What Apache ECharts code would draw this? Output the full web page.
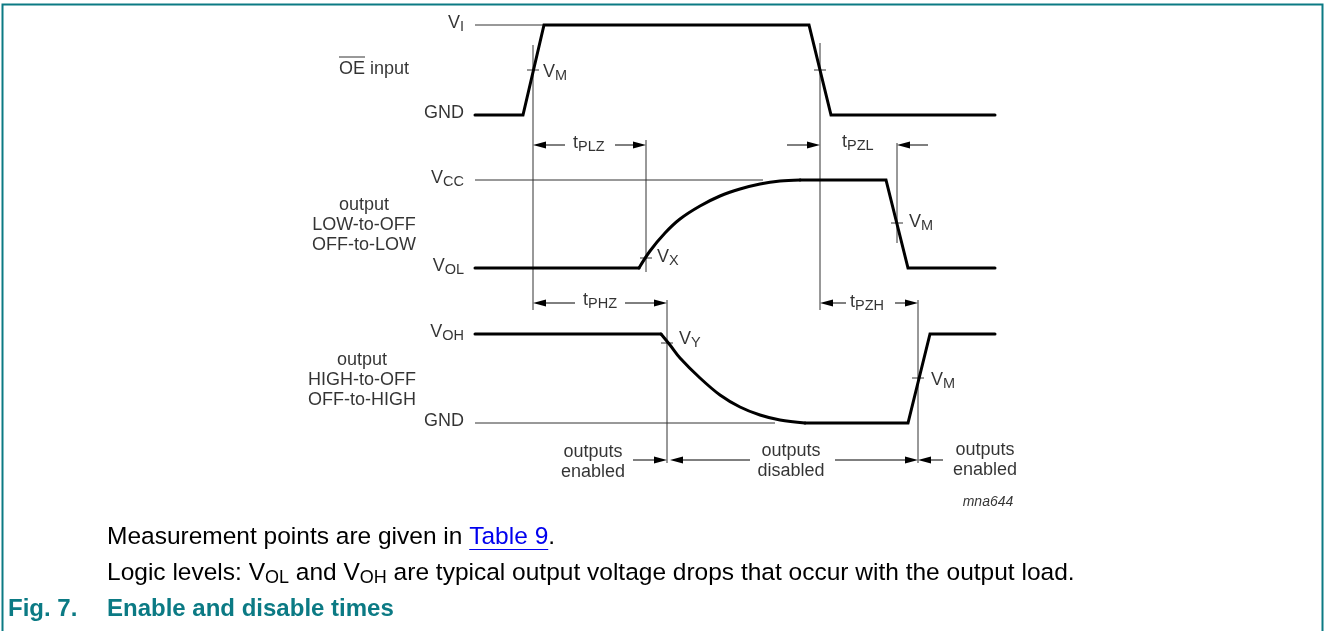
<!DOCTYPE html>
<html lang="en">
<head>
<meta charset="UTF-8">
<title>Enable and disable times</title>
<script src="https://cdn.jsdelivr.net/npm/echarts@6.0.0/dist/echarts.min.js"></script>
<style>
    html, body { margin: 0; padding: 0; background: #fff; }
    #timing { width: 1325px; height: 631px; }
</style>
</head>
<body>
<div id="timing"></div>
<script>
    var FONT = '"Liberation Sans", Arial, sans-serif';
    var TEAL = '#0b7a84';

    // time axis: 0..52, level axis: 0..40 (three traces stacked on one grid)
    var levelText = ['{v|V}{s|I}', 'GND', '{v|V}{s|CC}', '{v|V}{s|OL}', '{v|V}{s|OH}', 'GND'];
    var levelVal = [39.8, 30.8, 24.3, 15.5, 8.9, 0];

    // OE input
    var oeInput = [[0, 30.8], [4.8, 30.8], [6.9, 39.8], [33.4, 39.8], [35.6, 30.8], [52, 30.8]];
    // output LOW-to-OFF / OFF-to-LOW: flat, curved rise, flat + edge
    var outLowHead = [[0, 15.5], [16.4, 15.5]];
    var outLowCurve = [[16.4, 15.5], [17.5, 17.2], [19.0, 19.0], [20.5, 20.4], [22.5, 21.7],
        [24.5, 22.7], [26.5, 23.4], [28.5, 23.9], [30.5, 24.2], [32.5, 24.3]];
    var outLowTail = [[32.5, 24.3], [41.1, 24.3], [43.3, 15.5], [52, 15.5]];
    // output HIGH-to-OFF / OFF-to-HIGH
    var outHighHead = [[0, 8.9], [18.6, 8.9]];
    var outHighCurve = [[18.6, 8.9], [19.5, 7.8], [20.5, 6.5], [22.5, 4.5], [24.5, 2.8],
        [26.5, 1.6], [28.5, 0.8], [30.5, 0.3], [33.0, 0]];
    var outHighTail = [[33.0, 0], [43.3, 0], [45.5, 8.9], [52, 8.9]];

    // thin level lines and extension lines [x1, y1, x2, y2]
    var refLines = [[0, 39.8, 6.9, 39.8], [0, 24.3, 28.8, 24.3], [0, 0, 30, 0]];
    var extLines = [[5.8, 37.8, 5.8, 11.3], [34.5, 38.0, 34.5, 11.3], [17.1, 28.3, 17.1, 15.1],
        [42.2, 28.0, 42.2, 18.0], [19.2, 12.3, 19.2, -4.0], [44.3, 12.3, 44.3, -4.0]];
    var overline = [[-13.6, 36.6, -11.0, 36.6]];
    // measurement crossings (small tick)
    var measPoints = [[5.8, 35.3], [34.5, 35.3], [17.1, 16.5], [42.2, 20.0], [19.2, 8.0], [44.3, 4.5]];

    // dimension arrows [tail, y, head]
    var arrows = [
        [9.0, 27.8, 5.8], [14.0, 27.8, 17.1],
        [31.2, 27.8, 34.5], [45.3, 27.8, 42.2],
        [10.0, 12.0, 5.8], [15.0, 12.0, 19.2],
        [37.1, 12.0, 34.5], [42.0, 12.0, 44.3],
        [15.8, -3.7, 19.2], [27.5, -3.7, 19.5], [36.0, -3.7, 44.3], [46.8, -3.7, 44.3]
    ];

    var pointText = ['{v|V}{s|M}', '{v|V}{s|X}', '{v|V}{s|Y}', '{v|V}{s|M}', '{v|V}{s|M}'];
    var pointPos = [[6.8, 35.1], [18.2, 16.6], [20.4, 8.4], [43.4, 20.1], [45.6, 4.3]];

    var timeText = ['{v|t}{s|PLZ}', '{v|t}{s|PZL}', '{v|t}{s|PHZ}', '{v|t}{s|PZH}'];
    var timePos = [[9.8, 28.0], [36.7, 28.1], [10.8, 12.3], [37.5, 12.1]];

    var signalText = ['OE input', 'output\nLOW-to-OFF\nOFF-to-LOW', 'output\nHIGH-to-OFF\nOFF-to-HIGH'];
    var signalPos = [[-10.1, 35.4], [-11.1, 19.8], [-11.3, 4.3]];

    var stateText = ['outputs\nenabled', 'outputs\ndisabled', 'outputs\nenabled'];
    var statePos = [[11.8, -3.9], [31.6, -3.8], [51.0, -3.7]];

    var figId = ['mna644'];
    var figIdPos = [[51.3, -7.9]];

    function named(texts, pos) {
        return texts.map(function (t, i) {
            return {name: t, value: pos[i]};
        });
    }

    var rich = {
        v: {fontSize: 18, lineHeight: 18, fontFamily: FONT, color: '#000'},
        s: {fontSize: 14.5, lineHeight: 18, fontFamily: FONT, color: '#000', padding: [8, 0, 0, 0]}
    };

    function labelSeries(data, align, extra) {
        var label = {
            show: true,
            position: 'inside',
            align: align,
            verticalAlign: 'middle',
            color: '#000',
            fontFamily: FONT,
            fontSize: 18,
            lineHeight: 20,
            rich: rich,
            formatter: function (p) { return p.name; }
        };
        for (var k in extra) label[k] = extra[k];
        return {
            type: 'scatter',
            symbolSize: 0,
            clip: false,
            silent: true,
            data: data,
            label: label
        };
    }

    function segRender(params, api) {
        var a = api.coord([api.value(0), api.value(1)]);
        var b = api.coord([api.value(2), api.value(3)]);
        return {
            type: 'line',
            shape: {x1: a[0], y1: a[1], x2: b[0], y2: b[1]},
            style: {stroke: '#333', lineWidth: 1}
        };
    }

    function arrowRender(params, api) {
        var tail = api.coord([api.value(0), api.value(1)]);
        var head = api.coord([api.value(2), api.value(1)]);
        var dir = head[0] > tail[0] ? 1 : -1;
        var baseX = head[0] - dir * 13;
        return {
            type: 'group',
            children: [
                {type: 'line', shape: {x1: tail[0], y1: tail[1], x2: baseX, y2: head[1]},
                    style: {stroke: '#000', lineWidth: 1}},
                {type: 'polygon', shape: {points: [[head[0], head[1]], [baseX, head[1] - 3.5], [baseX, head[1] + 3.5]]},
                    style: {fill: '#000'}}
            ]
        };
    }

    var tickSegs = measPoints.map(function (p) { return [p[0] - 0.6, p[1], p[0] + 0.6, p[1]]; });

    function wave(data, smooth) {
        return {
            type: 'line',
            data: data,
            symbol: 'none',
            clip: false,
            silent: true,
            smooth: smooth ? 0.35 : false,
            lineStyle: {color: '#000', width: 3, join: smooth ? 'round' : 'miter', cap: 'round'}
        };
    }

    // body text below the diagram
    var bodyX = 107, bodyFont = 24.5, capFont = 24;
    var ctx = document.createElement('canvas').getContext('2d');
    ctx.font = bodyFont + 'px "Liberation Sans"';
    var pre = 'Measurement points are given in ';
    var linkX = bodyX + ctx.measureText(pre).width;
    var linkW = ctx.measureText('Table 9').width;

    var chart = echarts.init(document.getElementById('timing'));
    chart.setOption({
        animation: false,
        textStyle: {fontFamily: FONT},
        grid: {left: 475, top: 23, width: 520, height: 400},
        xAxis: {type: 'value', min: 0, max: 52, show: false},
        yAxis: {type: 'value', min: 0, max: 40, show: false},
        series: [
            wave(oeInput),
            wave(outLowHead), wave(outLowCurve, true), wave(outLowTail),
            wave(outHighHead), wave(outHighCurve, true), wave(outHighTail),
            {type: 'custom', renderItem: segRender, data: refLines.concat(extLines, overline, tickSegs), silent: true},
            {type: 'custom', renderItem: arrowRender, data: arrows, silent: true},
            labelSeries(levelVal.map(function (v, i) { return {name: levelText[i], value: [-1.1, v]}; }),
                'right', {offset: [0, -2]}),
            labelSeries(named(signalText, signalPos), 'center', {}),
            labelSeries(named(pointText, pointPos), 'left', {}),
            labelSeries(named(timeText, timePos), 'left', {}),
            labelSeries(named(stateText, statePos), 'center', {}),
            labelSeries(named(figId, figIdPos), 'center', {fontStyle: 'italic', fontSize: 14})
        ],
        graphic: [
            {type: 'polyline', silent: true,
                shape: {points: [[2.5, 631], [2.5, 4.5], [1322.5, 4.5], [1322.5, 631]]},
                style: {stroke: TEAL, lineWidth: 2, fill: null}},
            {type: 'text', silent: true, style: {
                x: bodyX, y: 537, verticalAlign: 'middle', align: 'left',
                text: pre + '{a|Table 9}.',
                fontSize: bodyFont, fontFamily: FONT, fill: '#000',
                rich: {a: {fontSize: bodyFont, fontFamily: FONT, fill: '#0000ee'}}
            }},
            {type: 'line', silent: true,
                shape: {x1: linkX, y1: 549.5, x2: linkX + linkW, y2: 549.5},
                style: {stroke: '#0000ee', lineWidth: 1}},
            {type: 'text', silent: true, style: {
                x: bodyX, y: 573, verticalAlign: 'middle', align: 'left',
                text: 'Logic levels: {v|V}{s|OL} and {v|V}{s|OH} are typical output voltage drops that occur with the output load.',
                fontSize: bodyFont, fontFamily: FONT, fill: '#000',
                rich: {
                    v: {fontSize: bodyFont, lineHeight: 26, fontFamily: FONT, fill: '#000'},
                    s: {fontSize: 18, lineHeight: 26, fontFamily: FONT, fill: '#000', padding: [10, 0, 0, 0]}
                }
            }},
            {type: 'text', silent: true, style: {
                x: 8, y: 609, verticalAlign: 'middle', align: 'left', text: 'Fig. 7.',
                fontSize: capFont, fontWeight: 'bold', fontFamily: FONT, fill: TEAL
            }},
            {type: 'text', silent: true, style: {
                x: bodyX, y: 609, verticalAlign: 'middle', align: 'left', text: 'Enable and disable times',
                fontSize: capFont, fontWeight: 'bold', fontFamily: FONT, fill: TEAL
            }}
        ]
    });
</script>
</body>
</html>
